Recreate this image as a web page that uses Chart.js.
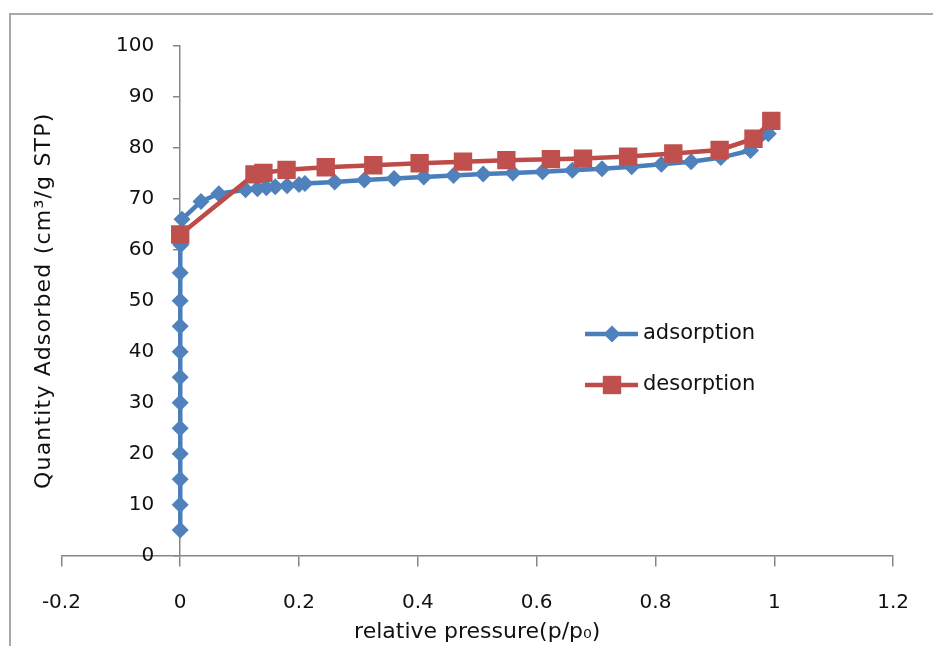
<!DOCTYPE html>
<html>
<head>
<meta charset="utf-8">
<script src="https://cdn.jsdelivr.net/npm/chart.js@4.4.1/dist/chart.umd.min.js"></script>
<style>
  html, body { margin: 0; padding: 0; background: #fff; overflow: hidden; }
  #wrap { position: relative; width: 933px; height: 646px; }
  #frame { position: absolute; left: 9px; top: 13px; width: 1000px; height: 1000px;
           border-left: 2px solid #a8a8a8; border-top: 2px solid #a8a8a8; }
  #chart { position: absolute; left: 0; top: 0; }
</style>
</head>
<body>
<div id="wrap">
  <div id="frame"></div>
  <canvas id="chart" width="933" height="646"></canvas>
</div>
<script>
// adsorption branch (blue diamonds)
var adsX = [0, 0, 0, 0, 0, 0, 0, 0, 0, 0, 0, 0.001, 0.003, 0.035, 0.065, 0.11, 0.13, 0.145, 0.16,
            0.18, 0.2, 0.21, 0.26, 0.31, 0.36, 0.41, 0.46, 0.51, 0.56, 0.61, 0.66, 0.71, 0.76,
            0.81, 0.86, 0.91, 0.96, 0.99];
var adsY = [5, 10, 15, 20, 25, 30, 35, 40, 45, 50, 55.5, 61, 66, 69.5, 71, 71.8, 72, 72.2, 72.4,
            72.6, 72.8, 73, 73.3, 73.7, 74, 74.3, 74.6, 74.9, 75.1, 75.3, 75.6, 75.9, 76.3,
            76.8, 77.3, 78.1, 79.5, 82.8];

// desorption branch (red squares)
var desX = [0, 0.125, 0.14, 0.179, 0.245, 0.325, 0.403, 0.476, 0.549, 0.624, 0.678, 0.754,
            0.83, 0.908, 0.965, 0.995];
var desY = [63, 74.8, 75.1, 75.7, 76.2, 76.6, 77, 77.3, 77.6, 77.8, 77.9, 78.3,
            78.9, 79.6, 81.8, 85.3];

var xTicks = [-0.2, 0, 0.2, 0.4, 0.6, 0.8, 1, 1.2];
var xTickLabels = ['-0.2', '0', '0.2', '0.4', '0.6', '0.8', '1', '1.2'];
var yTicks = [0, 10, 20, 30, 40, 50, 60, 70, 80, 90, 100];
var yTickLabels = ['0', '10', '20', '30', '40', '50', '60', '70', '80', '90', '100'];

var seriesNames = ['adsorption', 'desorption'];

function toPoints(xs, ys) {
    return xs.map(function(x, i) { return { x: x, y: ys[i] }; });
}

var axisColor = '#868686';
var tickFont = { family: 'DejaVu Sans', size: 20 };
var titleFont = { family: 'DejaVu Sans', size: 22 };

// y labels sit left of the axis that crosses at x = 0
var yAxisLabels = {
    id: 'yAxisLabels',
    afterLayout: function(chart) {
        // spread the y title letters a little, like the original
        var yt = chart.scales.yt;
        if (yt && !yt._spaced) {
            var orig = yt.drawTitle;
            yt.drawTitle = function() {
                var c = this.ctx;
                c.save();
                c.letterSpacing = '1.2px';
                orig.apply(this, arguments);
                c.restore();
            };
            yt._spaced = true;
        }
    },
    beforeDatasetsDraw: function(chart) {
        var ctx = chart.ctx;
        var xs = chart.scales.x, ys = chart.scales.y;
        var left = xs.getPixelForValue(0) - 6 - 20;
        ctx.save();
        ctx.fillStyle = '#111';
        ctx.font = '20px "DejaVu Sans"';
        ctx.textAlign = 'right';
        ctx.textBaseline = 'middle';
        yTicks.forEach(function(v, i) {
            ctx.fillText(yTickLabels[i], left, ys.getPixelForValue(v));
        });
        ctx.restore();
    }
};

// Excel style legend: short line with the marker in the middle
var excelLegend = {
    id: 'excelLegend',
    afterDraw: function(chart) {
        var ctx = chart.ctx;
        var rows = [334, 385];
        ctx.save();
        chart.data.datasets.forEach(function(ds, i) {
            var y = rows[i];
            ctx.strokeStyle = ds.borderColor;
            ctx.lineWidth = ds.borderWidth;
            ctx.beginPath();
            ctx.moveTo(585, y);
            ctx.lineTo(638, y);
            ctx.stroke();
            ctx.fillStyle = ds.pointBackgroundColor;
            ctx.beginPath();
            if (ds.pointStyle === 'rectRot') {
                var r = ds.pointRadius;
                ctx.moveTo(612, y - r);
                ctx.lineTo(612 + r, y);
                ctx.lineTo(612, y + r);
                ctx.lineTo(612 - r, y);
                ctx.closePath();
            } else {
                var s = ds.pointRadius * Math.SQRT1_2;
                ctx.rect(612 - s, y - s, 2 * s, 2 * s);
            }
            ctx.fill();
            ctx.fillStyle = '#111';
            ctx.font = '21px "DejaVu Sans"';
            ctx.textAlign = 'left';
            ctx.textBaseline = 'middle';
            ctx.fillText(ds.label, 643, y);
        });
        ctx.restore();
    }
};

var ctx = document.getElementById('chart').getContext('2d');
var chart = new Chart(ctx, {
    type: 'scatter',
    data: {
        datasets: [{
            label: seriesNames[0],
            data: toPoints(adsX, adsY),
            showLine: true,
            borderColor: '#4A7EBB',
            borderWidth: 4.5,
            pointStyle: 'rectRot',
            pointRadius: 8.5,
            pointBackgroundColor: '#4F81BD',
            pointBorderWidth: 0,
            order: 1
        }, {
            label: seriesNames[1],
            data: toPoints(desX, desY),
            showLine: true,
            borderColor: '#BE4B48',
            borderWidth: 4.5,
            pointStyle: 'rect',
            pointRadius: 13,
            pointBackgroundColor: '#C0504D',
            pointBorderWidth: 0,
            order: 0
        }]
    },
    options: {
        responsive: false,
        animation: false,
        layout: { padding: { left: 27, right: 34, top: 46, bottom: 1 } },
        plugins: {
            legend: { display: false },
            tooltip: { enabled: false }
        },
        scales: {
            x: {
                type: 'linear',
                position: 'bottom',
                min: -0.2,
                max: 1.2,
                afterBuildTicks: function(s) {
                    s.ticks = xTicks.map(function(v) { return { value: v }; });
                },
                ticks: {
                    font: tickFont,
                    color: '#111',
                    padding: 24,
                    maxRotation: 0,
                    callback: function(v) {
                        var i = xTicks.indexOf(v);
                        return i >= 0 ? xTickLabels[i] : '';
                    }
                },
                grid: { drawOnChartArea: false, tickLength: 11, color: axisColor, lineWidth: 1.5 },
                border: { color: axisColor, width: 1.5 },
                title: {
                    display: true,
                    text: 'relative pressure(p/p\u2080)',
                    font: titleFont,
                    color: '#111',
                    padding: { top: -20, bottom: 0 }
                }
            },
            y: {
                type: 'linear',
                position: { x: 0 },
                min: 0,
                max: 100,
                afterBuildTicks: function(s) {
                    s.ticks = yTicks.map(function(v) { return { value: v }; });
                },
                ticks: { display: false },
                grid: { drawOnChartArea: false, tickLength: 6, color: axisColor, lineWidth: 1.5 },
                border: { color: axisColor, width: 1.5 }
            },
            yt: {
                type: 'linear',
                axis: 'y',
                position: 'left',
                ticks: { display: false },
                grid: { display: false, drawTicks: false },
                border: { display: false },
                title: {
                    display: true,
                    text: 'Quantity Adsorbed (cm\u00b3/g STP)',
                    font: titleFont,
                    color: '#111',
                    padding: { top: 4, bottom: 4 }
                }
            }
        }
    },
    plugins: [yAxisLabels, excelLegend]
});
</script>
</body>
</html>
